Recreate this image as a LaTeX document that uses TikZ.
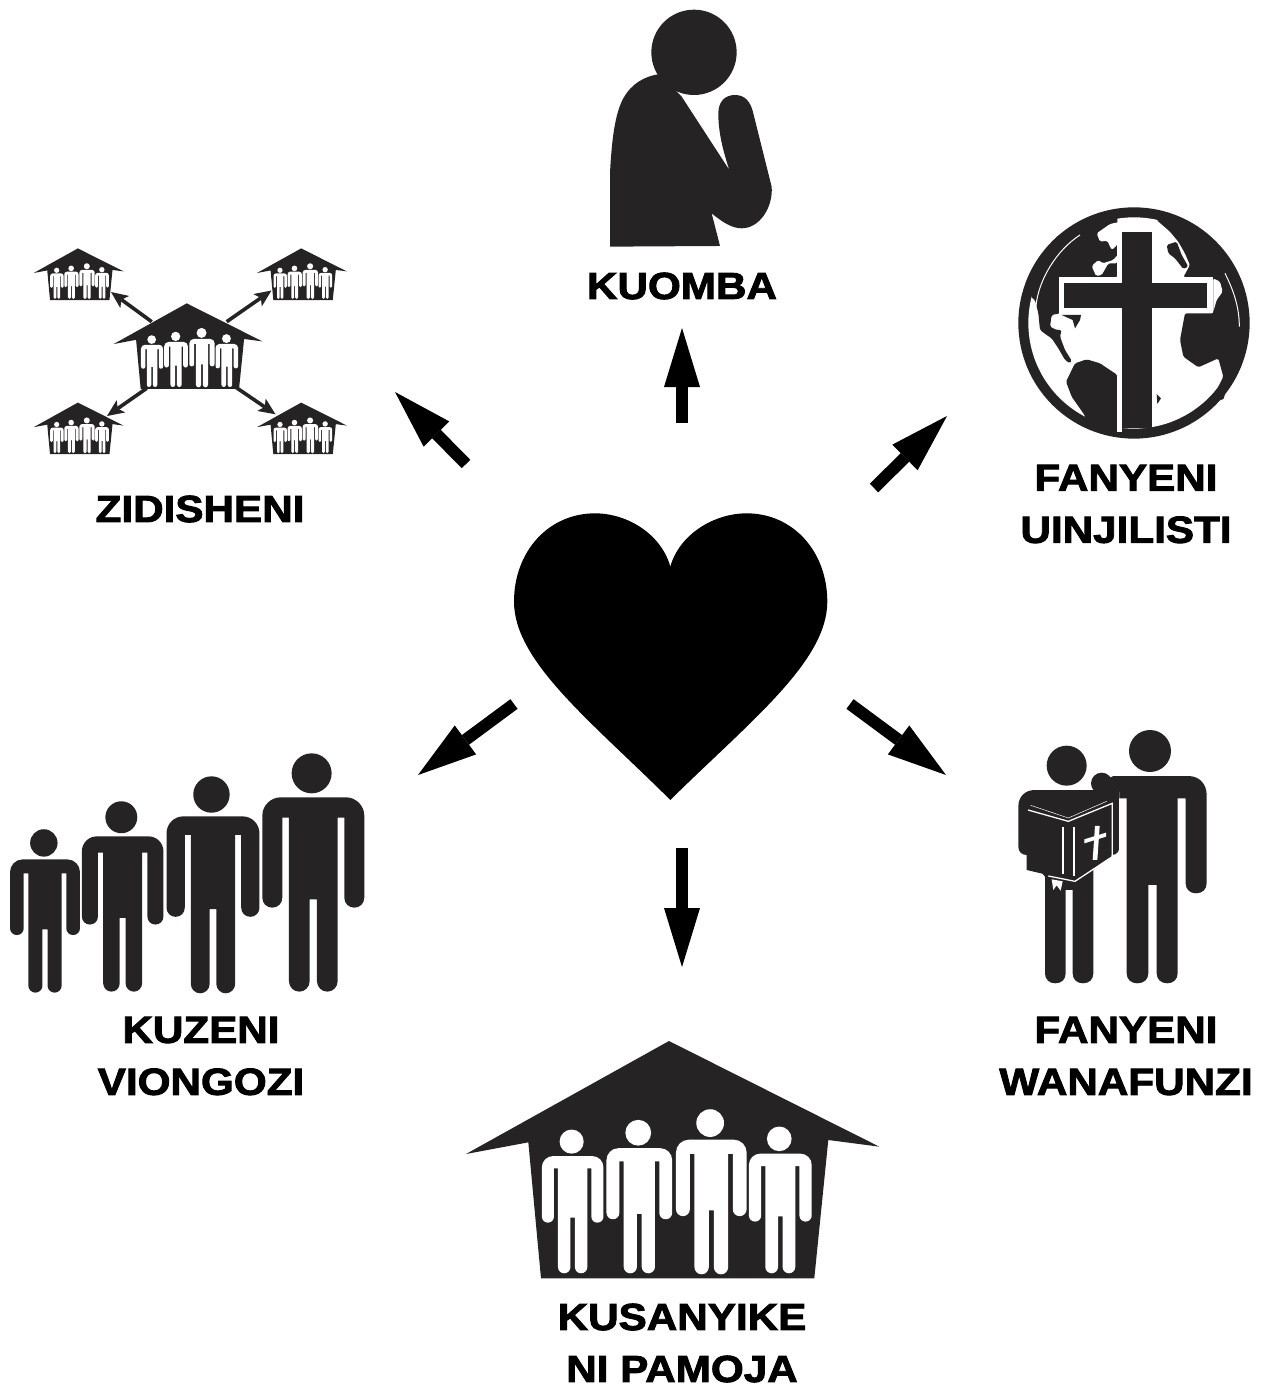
\documentclass[tikz,border=0pt]{standalone}
\usepackage{fontspec}
\usetikzlibrary{arrows.meta}
\newfontfamily\labelfont{Liberation Sans}[BoldFeatures={FakeBold=2.4,FakeStretch=1.12}]
\definecolor{ink}{HTML}{262324}
\tikzset{
  iconfill/.style={fill=ink,draw=none},
  paper/.style={fill=white,draw=none},
  caption/.style={font=\labelfont\bfseries\fontsize{37.7}{52}\selectfont,text=black,align=center,inner sep=0pt},
  bigarrow/.style={draw=black,line width=12pt,-{Triangle[length=59pt,width=36pt,line width=0pt]}},
  minorarrow/.style={draw=ink,line width=3.6pt,-{Stealth[length=17pt,width=15pt,inset=4pt,line width=0pt]}},
  land/.style={fill=ink,draw=none,rounded corners=1.6pt},
  sea/.style={fill=white,draw=none,rounded corners=1.6pt}
}
% figure of a person: centre x, top y, height, colour
\newcommand{\manfig}[4]{%
\begin{scope}[shift={(#1,#2)},scale={#3/716}]
\fill[#4] (-5,61) circle[radius=60];
\fill[#4] (-98,133) -- (98,133) .. controls (128,133) and (153,158) .. (153,188)
 -- (153,434) .. controls (153,451) and (140,464) .. (123,464) .. controls (106,464) and (93,451) .. (93,434)
 -- (93,194) -- (73,194) -- (73,685) .. controls (73,702) and (59,716) .. (42,716) .. controls (25,716) and (11,702) .. (11,685)
 -- (11,439) -- (-11,439) -- (-11,685) .. controls (-11,702) and (-25,716) .. (-42,716) .. controls (-59,716) and (-73,702) .. (-73,685)
 -- (-73,194) -- (-93,194) -- (-93,434) .. controls (-93,451) and (-106,464) .. (-123,464) .. controls (-140,464) and (-153,451) .. (-153,434)
 -- (-153,188) .. controls (-153,158) and (-128,133) .. (-98,133) -- cycle;
\end{scope}}
% house with four people: origin x, origin y, scale
\newcommand{\housefig}[3]{%
\begin{scope}[shift={(#1,#2)},scale=#3]
\fill[ink] (627,18) -- (1258,335) -- (1105,315) -- (1063,730) -- (243,730) -- (205,322) -- (18,357) -- cycle;
\manfig{338}{283}{432}{white}
\manfig{538}{254}{461}{white}
\manfig{754}{222}{496}{white}
\manfig{961}{274}{441}{white}
\end{scope}}
\begin{document}
\begin{tikzpicture}[x=1pt,y=-1pt]
\useasboundingbox (0,0) rectangle (1261,1386);
% heart
\begin{scope}[shift={(505,505)},scale=0.3333]
\fill[black] (496,185) .. controls (470,90) and (370,25) .. (270,25) .. controls (130,25) and (27,140) .. (27,290)
 .. controls (27,470) and (260,650) .. (496,885) .. controls (734,650) and (967,470) .. (967,290)
 .. controls (967,140) and (865,25) .. (725,25) .. controls (625,25) and (522,90) .. (496,185) -- cycle;
\end{scope}
% praying figure
\begin{scope}[shift={(590,0)},scale=0.3333]
\fill[ink] (312,157) circle[radius=128];
\fill[ink] (60,740) -- (60,520) .. controls (65,420) and (75,340) .. (100,295) .. controls (125,250) and (165,228) .. (210,222)
 -- (275,290) -- (418,510) .. controls (395,440) and (385,390) .. (385,340) .. controls (385,305) and (405,285) .. (435,285)
 .. controls (465,285) and (482,305) .. (490,340) -- (545,560) .. controls (550,620) and (510,685) .. (455,685)
 .. controls (425,685) and (395,665) .. (365,640) -- (390,738) -- cycle;
\end{scope}
% globe and cross
\begin{scope}[shift={(1000,200)},scale=0.3333]
\fill[ink] (402,369) circle[radius=347];
\fill[white] (402,369) circle[radius=317];
\fill[land] (105,300) -- (115,340) -- (120,390) -- (140,405) -- (155,415) -- (165,430) -- (175,445) -- (195,480) -- (210,490) -- (215,482) -- (195,450)
 -- (180,410) -- (185,390) -- (170,390) -- (150,380) -- (155,345) -- (180,340) -- (178,232) -- (352,232) -- (352,40) -- (280,50)
 -- (170,110) -- (110,200) -- (92,290) -- cycle;
\fill[sea] (290,100) -- (300,125) -- (322,122) -- (335,150) -- (352,135) -- (362,80) -- (470,80) -- (470,65) -- (400,57) -- (330,72) -- cycle;
\fill[sea] (275,198) -- (295,180) -- (308,190) -- (340,180) -- (352,165) -- (352,190) -- (325,190) -- (305,225) -- (288,228) -- cycle;
\draw[white,line width=1pt] (108,318) .. controls (115,240) and (170,150) .. (240,105);
\fill[land] (470,60) -- (510,95) -- (535,125) -- (555,160) -- (570,195) -- (550,232) -- (640,232) -- (640,340) -- (555,340) -- (540,420) -- (550,470)
 -- (595,502) -- (655,475) -- (670,530) -- (650,570) -- (628,595) -- (670,600) -- (735,369) -- (700,200) -- (600,100) -- (470,35) -- cycle;
\fill[sea] (640,235) -- (660,245) -- (668,275) -- (650,300) -- (640,335) -- cycle;
\fill[land] (500,135) -- (530,125) -- (545,165) -- (565,200) -- (550,207) -- (525,175) -- (505,160) -- cycle;
\draw[white,line width=1pt] (675,220) .. controls (700,270) and (718,320) .. (718,380);
\fill[land] (198,545) -- (225,490) -- (260,478) -- (300,490) -- (352,525) -- (352,710) -- (300,700) -- (275,685) -- (250,640) -- (215,590) -- cycle;
\fill[ink] (185,345) -- (243,345) -- (240,360) -- (225,385) -- (218,360) -- cycle;
\fill[ink] (470,582) -- (483,595) -- (472,612) -- cycle;
\fill[white] (352,82) rectangle (366,697);
\fill[white] (455,82) rectangle (468,232);
\fill[white] (178,232) rectangle (638,340);
\fill[ink] (366,95) rectangle (455,683);
\fill[ink] (193,248) rectangle (622,325);
\end{scope}
% zidisheni houses
\housefig{32.4}{247.1}{0.0725}
\housefig{255.7}{247.1}{0.0725}
\housefig{32.4}{401.3}{0.0725}
\housefig{255.7}{401.3}{0.0725}
\housefig{111.5}{301.2}{0.1200}
% inner arrows
\coordinate (tlStart) at (151.7,321.7);
\coordinate (tlEnd) at (111,292);
\coordinate (trStart) at (226.7,321.7);
\coordinate (trEnd) at (271.5,290.5);
\coordinate (blStart) at (146.7,388.3);
\coordinate (blEnd) at (107,416);
\coordinate (brStart) at (235,386.7);
\coordinate (brEnd) at (275.5,414.3);
\draw[minorarrow] (tlStart) -- (tlEnd);
\draw[minorarrow] (trStart) -- (trEnd);
\draw[minorarrow] (blStart) -- (blEnd);
\draw[minorarrow] (brStart) -- (brEnd);
% kuzeni viongozi people
\begin{scope}[shift={(0,745)},scale=0.3333]
\manfig{135}{252}{491}{ink}
\manfig{368}{168}{572}{ink}
\manfig{639}{93}{652}{ink}
\manfig{940}{24}{716}{ink}
\end{scope}
% teacher and pupil with book
\begin{scope}[shift={(1000,720)},scale=0.3333]
\fill[ink] (450,93) circle[radius=63];
\fill[ink] (200,137) circle[radius=60];
% pupil
\fill[ink] (105,210) -- (358,210) -- (358,380) .. controls (358,395) and (350,405) .. (335,405) -- (280,405) -- (280,760)
 .. controls (280,778) and (268,790) .. (249,790) .. controls (230,790) and (218,778) .. (218,760) -- (218,510) -- (197,510) -- (197,760)
 .. controls (197,778) and (185,790) .. (166,790) .. controls (147,790) and (135,778) .. (135,760) -- (135,470) -- (80,405)
 .. controls (65,405) and (55,395) .. (55,380) -- (55,260) .. controls (55,230) and (75,210) .. (105,210) -- cycle;
\fill[white] (358,235) rectangle (380,500);
% teacher
\fill[ink] (340,168) -- (565,168) .. controls (598,168) and (620,192) .. (620,225) -- (620,490) .. controls (620,508) and (607,520) .. (588,520)
 .. controls (570,520) and (557,508) .. (557,490) -- (557,235) -- (533,235) -- (533,760) .. controls (533,778) and (520,790) .. (502,790)
 .. controls (483,790) and (470,778) .. (470,760) -- (470,495) -- (445,495) -- (445,760) .. controls (445,778) and (432,790) .. (412,790)
 .. controls (393,790) and (380,778) .. (380,760) -- (380,235) -- (358,235) -- (358,215) -- (300,215) -- (275,200) -- cycle;
\fill[ink] (305,190) circle[radius=32];
% book
\fill[ink] (80,272) -- (205,306) -- (335,252) -- (335,410) -- (225,484) -- (80,450) -- cycle;
\draw[white,line width=1.3pt] (84,270) -- (205,304) -- (337,250) -- (337,410) -- (225,484) -- (145,468);
\draw[white,line width=0.5pt] (92,256) -- (205,294) -- (320,244);
\fill[white] (185,322) rectangle (192,462);
\fill[white] (219,322) rectangle (226,468);
\fill[white] (285,318) -- (299,318) -- (292,420) -- (278,420) -- cycle;
\fill[white] (253,358) -- (318,338) -- (318,350) -- (253,370) -- cycle;
\fill[white] (155,478) -- (188,484) -- (182,512) -- (170,496) -- (160,510) -- cycle;
\end{scope}
% gathering house
\housefig{460}{1035}{0.3333}
% main arrows
\coordinate (upStart) at (682,423);
\coordinate (upEnd) at (682,328);
\coordinate (nwStart) at (466,464);
\coordinate (nwEnd) at (395,392);
\coordinate (neStart) at (874,488);
\coordinate (neEnd) at (947,416);
\coordinate (seStart) at (850,704);
\coordinate (seEnd) at (946,775);
\coordinate (swStart) at (514,704);
\coordinate (swEnd) at (418,775);
\coordinate (downStart) at (682,848);
\coordinate (downEnd) at (682,967);
\draw[bigarrow] (upStart) -- (upEnd);
\draw[bigarrow] (nwStart) -- (nwEnd);
\draw[bigarrow] (neStart) -- (neEnd);
\draw[bigarrow] (seStart) -- (seEnd);
\draw[bigarrow] (swStart) -- (swEnd);
\draw[bigarrow] (downStart) -- (downEnd);
% captions
\node[caption] (kuomba) at (682,286) {KUOMBA};
\node[caption] (zidisheni) at (200,509) {ZIDISHENI};
\node[caption] (uinjilisti) at (1126,504) {FANYENI\\UINJILISTI};
\node[caption] (wanafunzi) at (1126,1056) {FANYENI\\WANAFUNZI};
\node[caption] (viongozi) at (201,1056) {KUZENI\\VIONGOZI};
\node[caption] (pamoja) at (682,1343) {KUSANYIKE\\NI PAMOJA};
\end{tikzpicture}
\end{document}
